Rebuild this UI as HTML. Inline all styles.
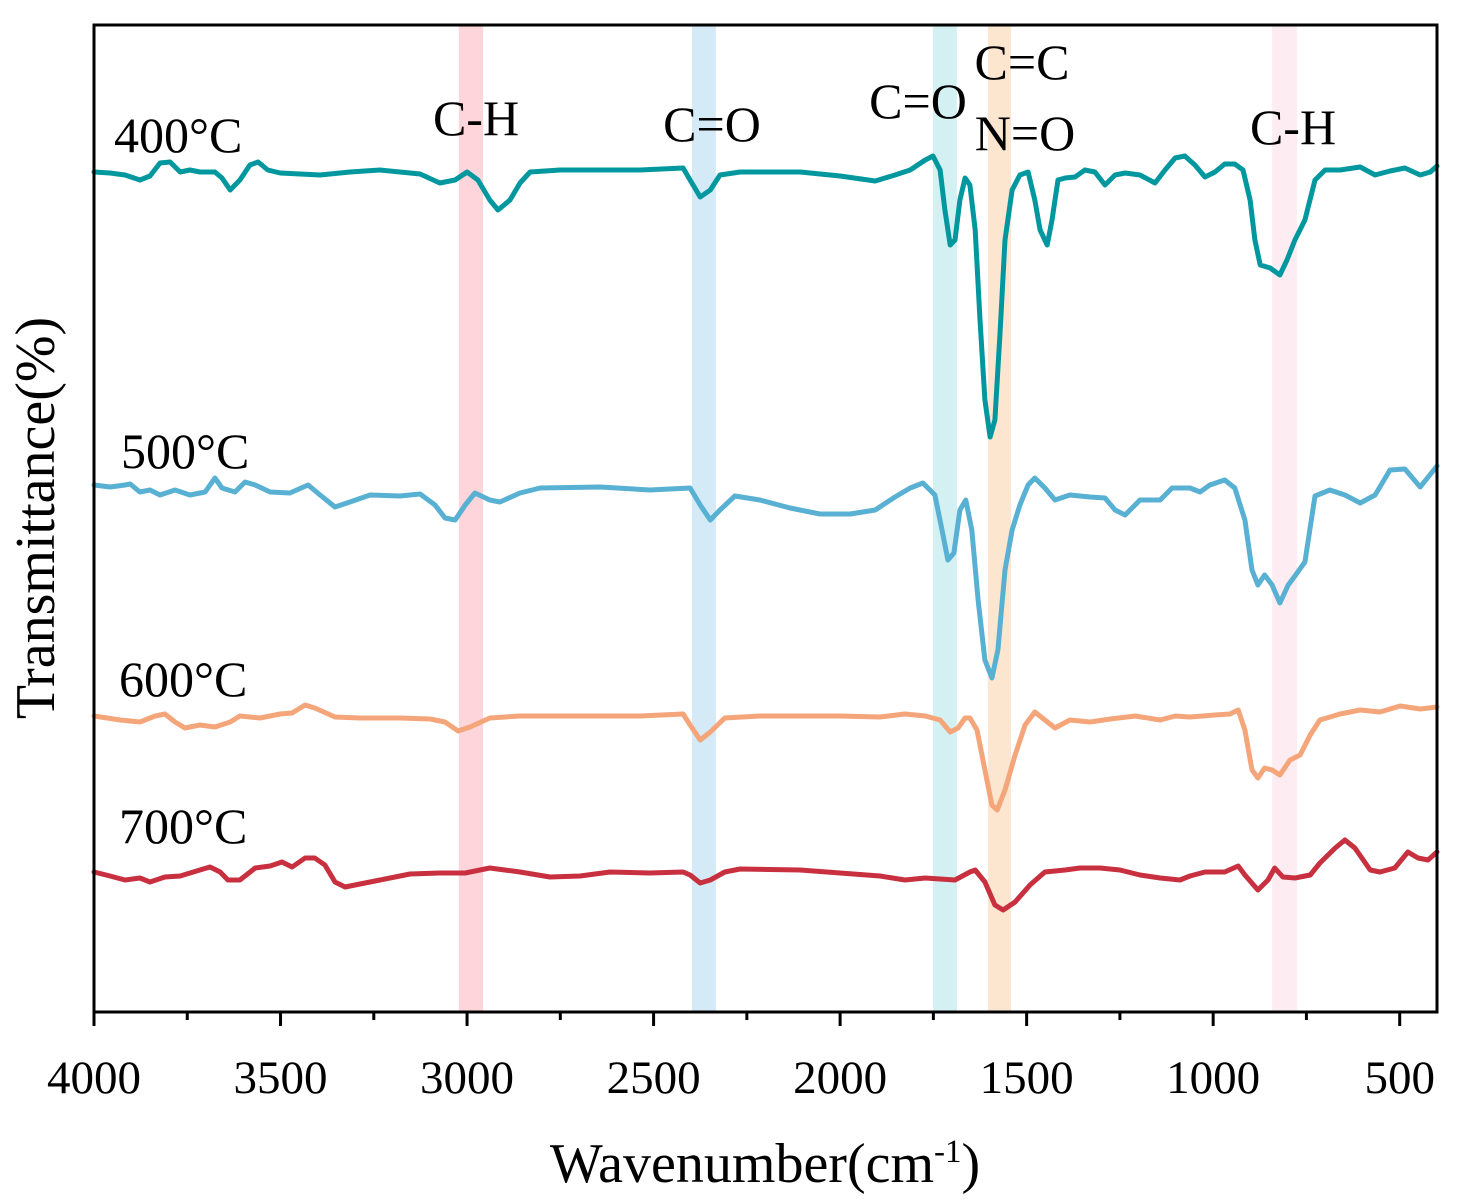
<!DOCTYPE html>
<html><head><meta charset="utf-8"><style>
html,body{margin:0;padding:0;background:#fff;}
svg{display:block;font-family:"Liberation Serif",serif;}
</style></head><body>
<svg id="chart" width="1468" height="1201" viewBox="0 0 1468 1201" xmlns="http://www.w3.org/2000/svg">
<g id="bands"></g><g id="series"></g><g id="axes"></g><g id="labels"></g>
</svg>
<script>
const xTicks=[4000,3500,3000,2500,2000,1500,1000,500];
const bandStarts=[3022,2397,1751,1604,842];
const bandEnds=[2957,2333,1687,1542,775];
const bandColors=["#FDD5DA","#D4EAF7","#D3F0F2","#FDE6D0","#FDEDF2"];
const w400=[4000,3957,3917,3877,3850,3823,3796,3769,3743,3716,3676,3657,3635,3609,3582,3560,3534,3501,3394,3314,3233,3126,3073,3032,3000,2971,2939,2917,2885,2858,2831,2751,2643,2536,2421,2402,2375,2348,2322,2268,2107,2000,1906,1853,1812,1772,1751,1732,1719,1705,1692,1679,1665,1652,1638,1625,1612,1598,1585,1571,1558,1539,1518,1496,1478,1464,1445,1432,1416,1397,1370,1344,1317,1290,1263,1236,1196,1156,1129,1102,1076,1049,1022,995,969,942,920,901,888,874,847,821,802,781,754,727,700,660,606,566,526,486,445,418,400];
const t400=[840,839,837,832,836,849,850,840,842,840,840,834,822,832,847,850,842,839,837,840,842,838,829,832,840,832,812,802,812,829,840,842,842,842,844,832,815,822,837,840,840,836,831,837,842,852,856,842,802,767,772,812,834,827,782,692,612,575,592,682,772,822,837,840,812,782,767,792,832,834,835,842,840,827,837,839,837,829,842,854,856,847,835,840,848,848,842,812,772,747,744,737,752,772,792,832,842,842,845,837,841,844,837,840,846];
const w500=[4000,3957,3917,3903,3877,3850,3823,3783,3743,3702,3676,3657,3622,3595,3568,3528,3475,3426,3394,3354,3314,3260,3180,3126,3086,3059,3032,3005,2979,2939,2912,2858,2804,2643,2510,2402,2375,2348,2322,2282,2215,2134,2054,1973,1906,1853,1812,1778,1746,1727,1711,1695,1679,1663,1647,1630,1612,1593,1577,1558,1539,1518,1496,1478,1451,1424,1384,1330,1290,1263,1236,1196,1142,1110,1062,1035,1009,969,942,915,896,880,862,842,821,799,781,754,727,687,647,606,566,526,486,445,400];
const t500=[527,525,527,528,520,522,517,522,517,520,534,524,520,530,527,520,519,527,517,505,510,517,516,518,507,494,492,507,519,512,510,519,524,525,522,524,507,492,502,516,512,504,498,498,502,515,524,529,517,482,452,459,502,512,482,412,352,334,362,442,482,507,527,534,524,512,517,515,514,502,497,512,512,524,524,520,527,532,524,492,442,427,437,427,409,427,436,450,516,522,517,509,517,542,543,525,546];
const w600=[4000,3930,3877,3836,3810,3783,3756,3716,3676,3635,3609,3555,3501,3469,3434,3408,3354,3287,3180,3099,3059,3024,2992,2939,2858,2751,2536,2421,2402,2375,2348,2309,2215,2107,2000,1893,1826,1772,1732,1705,1684,1665,1652,1633,1612,1593,1579,1558,1531,1504,1478,1451,1424,1384,1330,1276,1209,1142,1102,1062,995,955,933,915,896,880,862,842,821,794,767,740,714,660,606,553,499,445,400];
const t600=[296,292,290,296,298,290,284,287,285,290,296,294,298,299,307,304,295,294,294,293,290,281,285,294,296,296,296,298,287,272,280,294,296,296,296,295,298,296,292,280,284,294,294,282,242,207,202,222,257,287,300,292,284,292,290,293,296,292,296,295,297,298,302,282,242,234,244,242,237,252,257,277,292,298,302,300,306,303,305];
const w700=[4000,3957,3917,3877,3850,3810,3769,3716,3689,3662,3641,3609,3568,3528,3496,3469,3434,3408,3381,3354,3327,3287,3233,3153,3073,3005,2939,2858,2778,2697,2617,2510,2421,2402,2375,2348,2309,2268,2107,2000,1893,1826,1772,1692,1652,1638,1612,1585,1563,1531,1491,1451,1397,1357,1303,1250,1196,1142,1089,1062,1022,969,933,915,880,853,835,813,781,740,714,673,647,620,579,553,513,478,451,424,400];
const t700=[140,136,132,134,130,135,136,142,145,140,132,132,144,146,150,145,154,154,147,130,125,128,132,138,139,139,144,140,135,136,140,139,140,137,129,132,140,143,142,139,136,132,134,132,140,142,130,107,102,110,127,140,142,144,144,142,137,134,132,136,140,140,146,137,122,132,144,135,134,137,149,164,172,164,142,140,144,160,154,152,160];
const seriesNames=["400°C","500°C","600°C","700°C"];
const seriesColors=["#00989E","#58B0D3","#F5A57A","#C8303F"];
const seriesW=[w400,w500,w600,w700];
const seriesT=[t400,t500,t600,t700];
const NS="http://www.w3.org/2000/svg";
const L=94,R=1437,T=25,B=1012;
function xs(w){return L+(4000-w)*(R-L)/3600;}
function ys(v){return B-v;}
function mk(tag,attrs,parent){const e=document.createElementNS(NS,tag);for(const k in attrs)e.setAttribute(k,attrs[k]);parent.appendChild(e);return e;}
const gB=document.getElementById('bands'),gS=document.getElementById('series'),gA=document.getElementById('axes');
for(let i=0;i<bandStarts.length;i++){
 const r=mk('rect',{x:xs(bandStarts[i]),y:T,width:xs(bandEnds[i])-xs(bandStarts[i]),height:B-T,fill:bandColors[i]},gB);
 
 
}
for(let s=0;s<seriesW.length;s++){
 const pts=seriesW[s].map((w,i)=>xs(w).toFixed(1)+','+ys(seriesT[s][i]).toFixed(1)).join(' ');
 const p=mk('polyline',{points:pts,fill:'none',stroke:seriesColors[s],'stroke-width':5,'stroke-linejoin':'round','stroke-linecap':'round'},gS);
 
 
}
const frame=mk('rect',{x:L,y:T,width:R-L,height:B-T,fill:'none',stroke:'#000','stroke-width':3},gA);


for(let w=4000;w>=500;w-=250){
 const major=(w%500===0);
 const t=mk('line',{x1:xs(w),x2:xs(w),y1:B,y2:B+(major?14:8),stroke:'#000','stroke-width':3},gA);
 
 
}
xTicks.forEach(w=>{
 const t=mk('text',{x:xs(w),y:1093,'text-anchor':'middle','font-size':47},gA);
 t.textContent=w;
 
 
});
</script>
<svg style="position:absolute;left:0;top:0" width="1468" height="1201">
<g font-family="Liberation Serif, serif" fill="#000">
<text x="765" y="1182" text-anchor="middle" font-size="56">Wavenumber(cm<tspan dy="-20" font-size="33">-1</tspan><tspan dy="20">)</tspan></text>
<text transform="translate(54,518) rotate(-90)" text-anchor="middle" font-size="56">Transmittance(%)</text>
<text x="114" y="152" font-size="50">400°C</text>
<text x="121" y="468" font-size="50">500°C</text>
<text x="119" y="696" font-size="50">600°C</text>
<text x="119" y="843" font-size="50">700°C</text>
<text x="476" y="135" text-anchor="middle" font-size="50">C-H</text>
<text x="712" y="141" text-anchor="middle" font-size="50">C=O</text>
<text x="918" y="118" text-anchor="middle" font-size="50">C=O</text>
<text x="1022" y="79" text-anchor="middle" font-size="50">C=C</text>
<text x="1025" y="150" text-anchor="middle" font-size="50">N=O</text>
<text x="1293" y="144" text-anchor="middle" font-size="50">C-H</text>
</g></svg>
</body></html>
